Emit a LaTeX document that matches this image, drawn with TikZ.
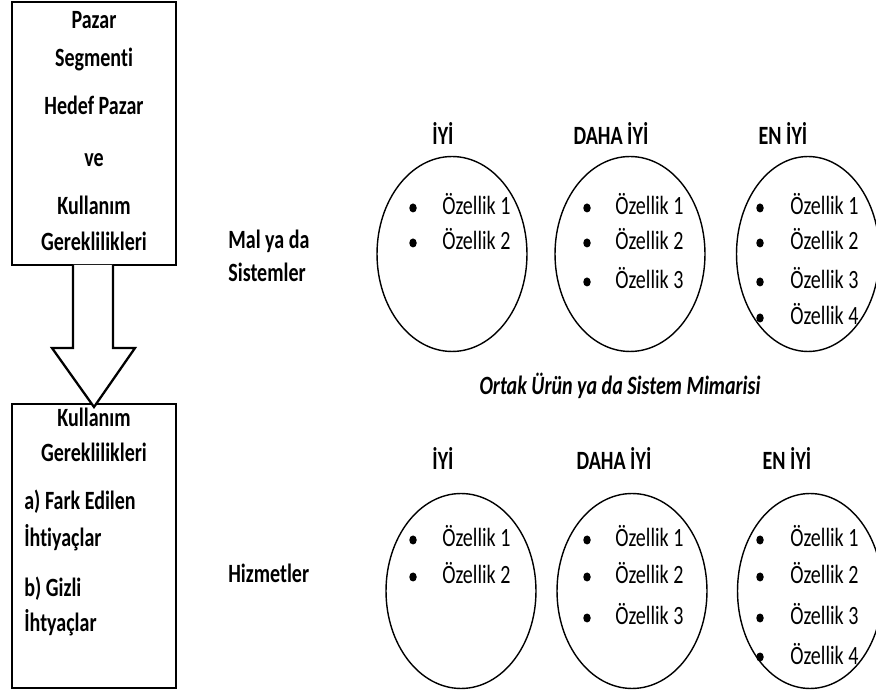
\documentclass[tikz,border=0pt]{standalone}
\usepackage{fontspec}
\setmainfont{Carlito}[FakeStretch=0.76,Ligatures=NoCommon]
\usetikzlibrary{shapes.geometric}

\begin{document}
\begin{tikzpicture}[x=0.02cm,y=-0.02cm,
  txt/.style={font=\fontsize{15}{18}\selectfont,inner sep=0pt},
  bold/.style={txt,font=\fontsize{15}{18}\selectfont\bfseries},
  bullet/.style={ellipse,fill,inner sep=0pt,minimum width=0.15cm,minimum height=0.18cm},
  box/.style={draw,line width=1.4pt,minimum width=3.28cm,inner sep=0pt},
  oval/.style={draw,ellipse,line width=0.8pt,minimum width=3cm,minimum height=3.9cm,inner sep=0pt},
  blockarrow/.style={draw,fill=white,line width=1.3pt,line join=miter}]
  \useasboundingbox (0,0) rectangle (876,695);
  % left column
  \node[box,minimum height=5.26cm] (segbox) at (94,133.5) {};
  \node[box,minimum height=5.68cm] (reqbox) at (94,546) {};
  \draw[blockarrow] (73,265) -- (73,348) -- (52,348) -- (94,407) -- (135,348) -- (113,348) -- (113,265);
  \node[bold,anchor=base] (pazar) at (94,29) {Pazar};
  \node[bold,anchor=base] (segment) at (94,67) {Segmenti};
  \node[bold,anchor=base] (hedef) at (94,115) {Hedef Pazar};
  \node[bold,anchor=base] (ve) at (94,167) {ve};
  \node[bold,anchor=base] (kullanimA) at (94,215) {Kullanım};
  \node[bold,anchor=base] (gerekA) at (94,251) {Gereklilikleri};
  \node[bold,anchor=base] (kullanimB) at (94,427) {Kullanım};
  \node[bold,anchor=base] (gerekB) at (94,462) {Gereklilikleri};
  \node[bold,anchor=base west] (fark) at (24,510) {a) Fark Edilen};
  \node[bold,anchor=base west] (ihtiyacA) at (24,547) {İhtiyaçlar};
  \node[bold,anchor=base west] (gizli) at (24,597) {b) Gizli};
  \node[bold,anchor=base west] (ihtiyacB) at (24,632) {İhtyaçlar};
  % row labels
  \node[bold,anchor=base west] (mal) at (228,249) {Mal ya da};
  \node[bold,anchor=base west] (sistem) at (228,282) {Sistemler};
  \node[bold,anchor=base west] (hizmet) at (228,583) {Hizmetler};
  \node[txt,anchor=base,font=\fontsize{15}{18}\selectfont\bfseries\itshape] (ortak) at (620,395) {Ortak Ürün ya da Sistem Mimarisi};
  % headers
  \node[bold,anchor=base] (iyiA) at (443,145) {İYİ};
  \node[bold,anchor=base] (dahaA) at (611,145) {DAHA İYİ};
  \node[bold,anchor=base] (eniyiA) at (783,145) {EN İYİ};
  \node[bold,anchor=base] (iyiB) at (443,470) {İYİ};
  \node[bold,anchor=base] (dahaB) at (614,470) {DAHA İYİ};
  \node[bold,anchor=base] (eniyiB) at (787,470) {EN İYİ};
  % circles
  \node[oval] (ovalA1) at (452,254) {};
  \node[oval] (ovalA2) at (630,254) {};
  \node[oval,minimum width=2.86cm] (ovalA3) at (808,254) {};
  \node[oval] (ovalB1) at (461,591) {};
  \node[oval] (ovalB2) at (632,591) {};
  \node[oval,minimum width=2.9cm] (ovalB3) at (810,591) {};
  % items
  \foreach \col/\bx/\tx/\n in {1/413/442/2,2/587/615/3,3/760/790/4}{
    \foreach \i/\ya/\yb in {1/215/547,2/250/584,3/289/625,4/325/664}{
      \ifnum\i>\n\else
        \node[bullet] (dotA\col\i) at (\bx,\ya-7) {};
        \node[txt,anchor=base west] (itemA\col\i) at (\tx,\ya) {Özellik \i};
        \node[bullet] (dotB\col\i) at (\bx,\yb-7) {};
        \node[txt,anchor=base west] (itemB\col\i) at (\tx,\yb) {Özellik \i};
      \fi
    }
  }
\end{tikzpicture}
\end{document}
